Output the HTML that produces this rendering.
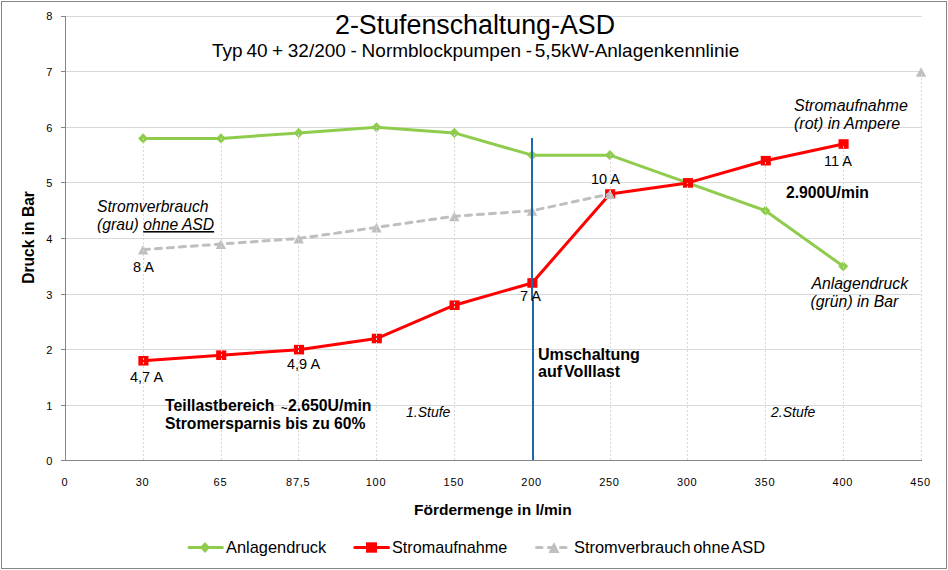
<!DOCTYPE html><html><head><meta charset="utf-8"><style>html,body{margin:0;padding:0;background:#fff;}svg{display:block;}text{font-family:"Liberation Sans",sans-serif;fill:#000;}</style></head><body>
<svg width="948" height="570" viewBox="0 0 948 570">
<rect x="0" y="0" width="948" height="570" fill="#fff"/>
<rect x="1.5" y="1.5" width="945" height="567" fill="none" stroke="#868686" stroke-width="1"/>
<line x1="65" y1="405.5" x2="922" y2="405.5" stroke="#d9d9d9" stroke-width="1"/>
<line x1="65" y1="349.5" x2="922" y2="349.5" stroke="#d9d9d9" stroke-width="1"/>
<line x1="65" y1="294.5" x2="922" y2="294.5" stroke="#d9d9d9" stroke-width="1"/>
<line x1="65" y1="238.5" x2="922" y2="238.5" stroke="#d9d9d9" stroke-width="1"/>
<line x1="65" y1="182.5" x2="922" y2="182.5" stroke="#d9d9d9" stroke-width="1"/>
<line x1="65" y1="127.5" x2="922" y2="127.5" stroke="#d9d9d9" stroke-width="1"/>
<line x1="65" y1="71.5" x2="922" y2="71.5" stroke="#d9d9d9" stroke-width="1"/>
<line x1="65" y1="16.5" x2="922" y2="16.5" stroke="#d9d9d9" stroke-width="1"/>
<polyline points="143.12,138.46 220.92,138.46 298.71,132.90 376.51,127.34 454.30,132.90 532.09,155.13 609.89,155.13 687.68,182.92 765.48,210.71 843.27,266.28" fill="none" stroke="#8fcc4e" stroke-width="3" stroke-linejoin="round" stroke-linecap="round"/>
<path d="M143.12,133.36 L148.12,138.46 L143.12,143.56 L138.12,138.46Z" fill="#8fcc4e"/>
<path d="M220.92,133.36 L225.92,138.46 L220.92,143.56 L215.92,138.46Z" fill="#8fcc4e"/>
<path d="M298.71,127.80 L303.71,132.90 L298.71,138.00 L293.71,132.90Z" fill="#8fcc4e"/>
<path d="M376.51,122.24 L381.51,127.34 L376.51,132.44 L371.51,127.34Z" fill="#8fcc4e"/>
<path d="M454.30,127.80 L459.30,132.90 L454.30,138.00 L449.30,132.90Z" fill="#8fcc4e"/>
<path d="M532.09,150.03 L537.09,155.13 L532.09,160.23 L527.09,155.13Z" fill="#8fcc4e"/>
<path d="M609.89,150.03 L614.89,155.13 L609.89,160.23 L604.89,155.13Z" fill="#8fcc4e"/>
<path d="M687.68,177.82 L692.68,182.92 L687.68,188.02 L682.68,182.92Z" fill="#8fcc4e"/>
<path d="M765.48,205.61 L770.48,210.71 L765.48,215.81 L760.48,210.71Z" fill="#8fcc4e"/>
<path d="M843.27,261.18 L848.27,266.28 L843.27,271.38 L838.27,266.28Z" fill="#8fcc4e"/>
<polyline points="143.12,360.76 220.92,355.21 298.71,349.65 376.51,338.53 454.30,305.19 532.09,282.96 609.89,194.04 687.68,182.92 765.48,160.69 843.27,144.02" fill="none" stroke="#ff0000" stroke-width="3" stroke-linejoin="round" stroke-linecap="round"/>
<rect x="138.37" y="355.96" width="10.1" height="9.6" fill="#ff0000"/>
<rect x="216.17" y="350.41" width="10.1" height="9.6" fill="#ff0000"/>
<rect x="293.96" y="344.85" width="10.1" height="9.6" fill="#ff0000"/>
<rect x="371.76" y="333.73" width="10.1" height="9.6" fill="#ff0000"/>
<rect x="449.55" y="300.39" width="10.1" height="9.6" fill="#ff0000"/>
<rect x="527.34" y="278.16" width="10.1" height="9.6" fill="#ff0000"/>
<rect x="605.14" y="189.24" width="10.1" height="9.6" fill="#ff0000"/>
<rect x="682.93" y="178.12" width="10.1" height="9.6" fill="#ff0000"/>
<rect x="760.73" y="155.89" width="10.1" height="9.6" fill="#ff0000"/>
<rect x="838.52" y="139.22" width="10.1" height="9.6" fill="#ff0000"/>
<polyline points="143.12,249.61 220.92,244.05 298.71,238.50 376.51,227.38 454.30,216.27 532.09,210.71 609.89,194.04" fill="none" stroke="#bfbfbf" stroke-width="3" stroke-dasharray="6 6" stroke-dashoffset="-0.3" stroke-linecap="round"/>
<path d="M143.12,245.01 L148.32,254.61 L137.92,254.61Z" fill="#bfbfbf"/>
<path d="M220.92,239.45 L226.12,249.05 L215.72,249.05Z" fill="#bfbfbf"/>
<path d="M298.71,233.90 L303.91,243.50 L293.51,243.50Z" fill="#bfbfbf"/>
<path d="M376.51,222.78 L381.71,232.38 L371.31,232.38Z" fill="#bfbfbf"/>
<path d="M454.30,211.67 L459.50,221.27 L449.10,221.27Z" fill="#bfbfbf"/>
<path d="M532.09,206.11 L537.29,215.71 L526.89,215.71Z" fill="#bfbfbf"/>
<path d="M609.89,189.44 L615.09,199.04 L604.69,199.04Z" fill="#bfbfbf"/>
<path d="M921.06,67.17 L926.26,76.77 L915.86,76.77Z" fill="#bfbfbf"/>
<line x1="143.5" y1="138.46" x2="143.5" y2="460" stroke="#d6d6d6" stroke-width="1" stroke-dasharray="2 2" stroke-dashoffset="0.46"/>
<line x1="221.5" y1="138.46" x2="221.5" y2="460" stroke="#d6d6d6" stroke-width="1" stroke-dasharray="2 2" stroke-dashoffset="0.46"/>
<line x1="298.5" y1="132.90" x2="298.5" y2="460" stroke="#d6d6d6" stroke-width="1" stroke-dasharray="2 2" stroke-dashoffset="2.90"/>
<line x1="376.5" y1="127.34" x2="376.5" y2="460" stroke="#d6d6d6" stroke-width="1" stroke-dasharray="2 2" stroke-dashoffset="1.34"/>
<line x1="454.5" y1="132.90" x2="454.5" y2="460" stroke="#d6d6d6" stroke-width="1" stroke-dasharray="2 2" stroke-dashoffset="2.90"/>
<line x1="532.5" y1="155.13" x2="532.5" y2="460" stroke="#d6d6d6" stroke-width="1" stroke-dasharray="2 2" stroke-dashoffset="1.13"/>
<line x1="610.5" y1="155.13" x2="610.5" y2="460" stroke="#d6d6d6" stroke-width="1" stroke-dasharray="2 2" stroke-dashoffset="1.13"/>
<line x1="687.5" y1="182.92" x2="687.5" y2="460" stroke="#d6d6d6" stroke-width="1" stroke-dasharray="2 2" stroke-dashoffset="0.92"/>
<line x1="765.5" y1="160.69" x2="765.5" y2="460" stroke="#d6d6d6" stroke-width="1" stroke-dasharray="2 2" stroke-dashoffset="2.69"/>
<line x1="843.5" y1="144.02" x2="843.5" y2="460" stroke="#d6d6d6" stroke-width="1" stroke-dasharray="2 2" stroke-dashoffset="2.02"/>
<line x1="921.5" y1="71.77" x2="921.5" y2="460" stroke="#d6d6d6" stroke-width="1" stroke-dasharray="2 2" stroke-dashoffset="1.77"/>
<line x1="65.5" y1="16" x2="65.5" y2="461" stroke="#868686" stroke-width="1"/>
<line x1="61" y1="460.5" x2="922" y2="460.5" stroke="#868686" stroke-width="1"/>
<line x1="61" y1="460.5" x2="65" y2="460.5" stroke="#868686" stroke-width="1"/>
<line x1="61" y1="405.5" x2="65" y2="405.5" stroke="#868686" stroke-width="1"/>
<line x1="61" y1="349.5" x2="65" y2="349.5" stroke="#868686" stroke-width="1"/>
<line x1="61" y1="294.5" x2="65" y2="294.5" stroke="#868686" stroke-width="1"/>
<line x1="61" y1="238.5" x2="65" y2="238.5" stroke="#868686" stroke-width="1"/>
<line x1="61" y1="182.5" x2="65" y2="182.5" stroke="#868686" stroke-width="1"/>
<line x1="61" y1="127.5" x2="65" y2="127.5" stroke="#868686" stroke-width="1"/>
<line x1="61" y1="71.5" x2="65" y2="71.5" stroke="#868686" stroke-width="1"/>
<line x1="61" y1="16.5" x2="65" y2="16.5" stroke="#868686" stroke-width="1"/>
<path d="M531,138 H533 V300 H534 V460 H532 V300 H531 Z" fill="#1d68af"/>
<text x="52.3" y="465" font-size="11" text-anchor="end">0</text>
<text x="52.3" y="410" font-size="11" text-anchor="end">1</text>
<text x="52.3" y="354" font-size="11" text-anchor="end">2</text>
<text x="52.3" y="299" font-size="11" text-anchor="end">3</text>
<text x="52.3" y="243" font-size="11" text-anchor="end">4</text>
<text x="52.3" y="187" font-size="11" text-anchor="end">5</text>
<text x="52.3" y="132" font-size="11" text-anchor="end">6</text>
<text x="52.3" y="76" font-size="11" text-anchor="end">7</text>
<text x="52.3" y="20" font-size="11" text-anchor="end">8</text>
<text x="64.8" y="486" font-size="11" letter-spacing="0.7" text-anchor="middle">0</text>
<text x="142.6" y="486" font-size="11" letter-spacing="0.7" text-anchor="middle">30</text>
<text x="220.4" y="486" font-size="11" letter-spacing="0.7" text-anchor="middle">65</text>
<text x="298.2" y="486" font-size="11" letter-spacing="0.7" text-anchor="middle">87,5</text>
<text x="376.0" y="486" font-size="11" letter-spacing="0.7" text-anchor="middle">100</text>
<text x="453.8" y="486" font-size="11" letter-spacing="0.7" text-anchor="middle">150</text>
<text x="531.6" y="486" font-size="11" letter-spacing="0.7" text-anchor="middle">200</text>
<text x="609.4" y="486" font-size="11" letter-spacing="0.7" text-anchor="middle">250</text>
<text x="687.2" y="486" font-size="11" letter-spacing="0.7" text-anchor="middle">300</text>
<text x="765.0" y="486" font-size="11" letter-spacing="0.7" text-anchor="middle">350</text>
<text x="842.8" y="486" font-size="11" letter-spacing="0.7" text-anchor="middle">400</text>
<text x="920.6" y="486" font-size="11" letter-spacing="0.7" text-anchor="middle">450</text>
<text id="t_title" x="335" y="33.5" font-size="26.8">2-Stufenschaltung-ASD</text>
<text id="sub0" x="211.90" y="56.9" font-size="19">Typ</text>
<text id="sub1" x="246.40" y="56.9" font-size="19">40</text>
<text id="sub2" x="272.00" y="56.9" font-size="19">+</text>
<text id="sub3" x="287.80" y="56.9" font-size="19">32/200</text>
<text id="sub4" x="350.40" y="56.9" font-size="19">-</text>
<text id="sub5" x="361.60" y="56.9" font-size="19">Normblockpumpen</text>
<text id="sub6" x="525.80" y="56.9" font-size="19">-</text>
<text id="sub7" x="534.80" y="56.9" font-size="19">5,5kW-Anlagenkennlinie</text>
<text id="t_xt" x="414" y="514.5" font-size="15.5" font-weight="bold">Fördermenge in l/min</text>
<text id="t_yt" transform="translate(33.8,283.8) rotate(-90)" x="0" y="0" font-size="15.6" font-weight="bold">Druck in Bar</text>
<line x1="189" y1="547.5" x2="222.3" y2="547.5" stroke="#8fcc4e" stroke-width="3" stroke-linecap="round"/>
<path d="M205,542 L210,547.5 L205,553 L200,547.5Z" fill="#8fcc4e"/>
<text id="t_l1" x="226" y="552.5" font-size="16.4">Anlagendruck</text>
<line x1="354.8" y1="547.5" x2="388.5" y2="547.5" stroke="#ff0000" stroke-width="3" stroke-linecap="round"/>
<rect x="366" y="542.3" width="11" height="10.4" fill="#ff0000"/>
<text id="t_l2" x="392" y="552.5" font-size="16.2">Stromaufnahme</text>
<line x1="536.5" y1="547.5" x2="566" y2="547.5" stroke="#bfbfbf" stroke-width="3" stroke-linecap="round" stroke-dasharray="5.5 6.5"/>
<path d="M554,542 L559.5,553 L548.5,553Z" fill="#bfbfbf"/>
<text id="t_l3" x="574" y="552.5" font-size="16.4" word-spacing="-2">Stromverbrauch ohne ASD</text>
<text id="a1" x="97" y="212" font-size="15.7" font-style="italic">Stromverbrauch</text>
<text id="a2" x="97" y="230" font-size="15.7" font-style="italic">(grau) <tspan text-decoration="underline">ohne ASD</tspan></text>
<text id="a3" x="133" y="272" font-size="14.5">8 A</text>
<text id="a4" x="130" y="382" font-size="14.5">4,7 A</text>
<text id="a5" x="287" y="369.1" font-size="14.5">4,9 A</text>
<text id="a6" x="520" y="301" font-size="14.5">7 A</text>
<text id="a7" x="591" y="184.3" font-size="14.5">10 A</text>
<text id="a8" x="824" y="166" font-size="14.5">11 A</text>
<text id="a9" x="794" y="110.6" font-size="16" font-style="italic">Stromaufnahme</text>
<text id="a10" x="794" y="128.8" font-size="16" font-style="italic">(rot) in Ampere</text>
<text id="a11" x="786" y="197.7" font-size="15.7" font-weight="bold">2.900U/min</text>
<text id="a12" x="811.5" y="289.4" font-size="15.8" font-style="italic">Anlagendruck</text>
<text id="a13" x="810.5" y="307.1" font-size="15.8" font-style="italic">(grün) in Bar</text>
<text id="a14" x="538" y="359.6" font-size="16.1" font-weight="bold">Umschaltung</text>
<text id="a15" x="538" y="377.3" font-size="16.1" font-weight="bold" word-spacing="-2.6">auf Volllast</text>
<text id="a16" x="165" y="411.2" font-size="15.8" font-weight="bold">Teillastbereich <tspan font-size="11.5" dy="0.8" dx="2">~</tspan><tspan dy="-0.8" dx="0.5">2.650U/min</tspan></text>
<text id="a17" x="165" y="429.2" font-size="15.7" font-weight="bold">Stromersparnis bis zu 60%</text>
<text id="a18" x="406" y="416.8" font-size="14" font-style="italic">1.Stufe</text>
<text id="a19" x="771" y="416.8" font-size="14" font-style="italic">2.Stufe</text>
</svg></body></html>
